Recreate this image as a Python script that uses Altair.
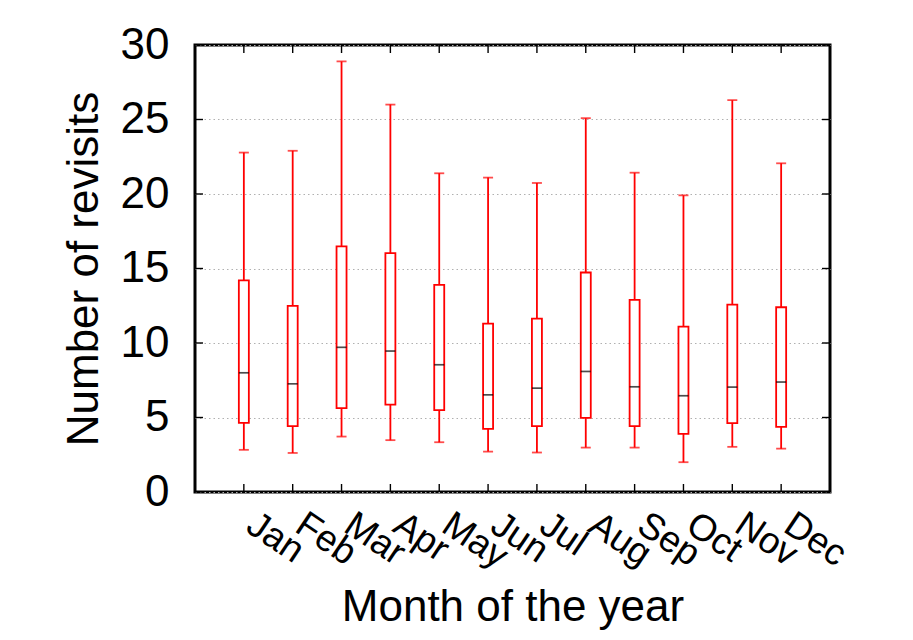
import altair as alt
import pandas as pd

months = ["Jan", "Feb", "Mar", "Apr", "May", "Jun", "Jul", "Aug", "Sep", "Oct", "Nov", "Dec"]
lows = [2.83, 2.62, 3.72, 3.48, 3.34, 2.71, 2.65, 2.98, 2.98, 2.0, 3.03, 2.91]
q1 = [4.64, 4.42, 5.63, 5.87, 5.49, 4.24, 4.42, 4.98, 4.42, 3.9, 4.62, 4.37]
medians = [8.0, 7.26, 9.71, 9.46, 8.54, 6.52, 6.97, 8.09, 7.06, 6.46, 7.04, 7.38]
q3 = [14.2, 12.49, 16.48, 16.03, 13.9, 11.3, 11.64, 14.73, 12.89, 11.1, 12.58, 12.4]
highs = [22.78, 22.9, 28.9, 26.0, 21.39, 21.1, 20.74, 25.09, 21.43, 19.91, 26.3, 22.06]
y_ticks = [0, 5, 10, 15, 20, 25, 30]

df = pd.DataFrame({"month": months, "low": lows, "q1": q1, "median": medians,
                   "q3": q3, "high": highs})
ydf = pd.DataFrame({"v": y_ticks})

W, H = 635, 447
FONT = "Liberation Sans"
RED = "#ff0000"

xenc = alt.X("month:N", sort=months,
             scale=alt.Scale(type="point", padding=1),
             axis=alt.Axis(title="Month of the year", labelAngle=34, labelAlign="left",
                           labelBaseline="alphabetic", labelFontSize=37, labelPadding=38,
                           ticks=False, domain=False, titleFontSize=44,
                           titleFontWeight="normal", titleBaseline="alphabetic",
                           titleY=128, labelColor="black", titleColor="black",
                           labelFont=FONT, titleFont=FONT))
yscale = alt.Scale(domain=[0, 30], nice=False, zero=True)
yaxis = alt.Axis(title="Number of revisits", values=y_ticks, labelFontSize=44,
                 labelPadding=26, ticks=False, domain=False, grid=True,
                 gridColor="#b0b0b0", gridDash=[1.5, 3], gridWidth=1,
                 titleFontSize=44, titleFontWeight="normal", titleBaseline="alphabetic",
                 titleX=-98, titleY=H / 2, titleAngle=270, titleAlign="center",
                 labelColor="black", titleColor="black", labelFont=FONT, titleFont=FONT)

base = alt.Chart(df)

whisk = base.mark_rule(color=RED, strokeWidth=1.8).encode(
    x=xenc,
    y=alt.Y("low:Q", scale=yscale, axis=yaxis),
    y2="high:Q",
)
box = base.mark_bar(fill="white", stroke=RED, strokeWidth=1.8, size=10).encode(
    x=alt.X("month:N", sort=months), y="q1:Q", y2="q3:Q"
)
med = base.mark_tick(color="black", thickness=1.7, size=10).encode(
    x=alt.X("month:N", sort=months), y="median:Q"
)
cap_lo = base.mark_tick(color=RED, thickness=1.8, size=10).encode(
    x=alt.X("month:N", sort=months), y="low:Q"
)
cap_hi = base.mark_tick(color=RED, thickness=1.8, size=10).encode(
    x=alt.X("month:N", sort=months), y="high:Q"
)

tick_bot = base.mark_rule(color="black", strokeWidth=1.4).encode(
    x=alt.X("month:N", sort=months), y=alt.value(H), y2=alt.value(H - 8)
)
tick_top = base.mark_rule(color="black", strokeWidth=1.4).encode(
    x=alt.X("month:N", sort=months), y=alt.value(0), y2=alt.value(8)
)
ychart = alt.Chart(ydf)
tick_left = ychart.mark_rule(color="black", strokeWidth=1.4).encode(
    y="v:Q", x=alt.value(0), x2=alt.value(8)
)
tick_right = ychart.mark_rule(color="black", strokeWidth=1.4).encode(
    y="v:Q", x=alt.value(W), x2=alt.value(W - 8)
)

chart = alt.layer(
    whisk, box, med, cap_lo, cap_hi, tick_bot, tick_top, tick_left, tick_right
).properties(
    width=W, height=H,
    autosize=alt.AutoSizeParams(type="none"),
    padding={"left": 187, "top": 37, "right": 60, "bottom": 140},
).configure(
    background="white",
    view=alt.ViewConfig(stroke="black", strokeWidth=3),
)

chart.save("out.html", embed_options={"renderer": "svg", "actions": False})
